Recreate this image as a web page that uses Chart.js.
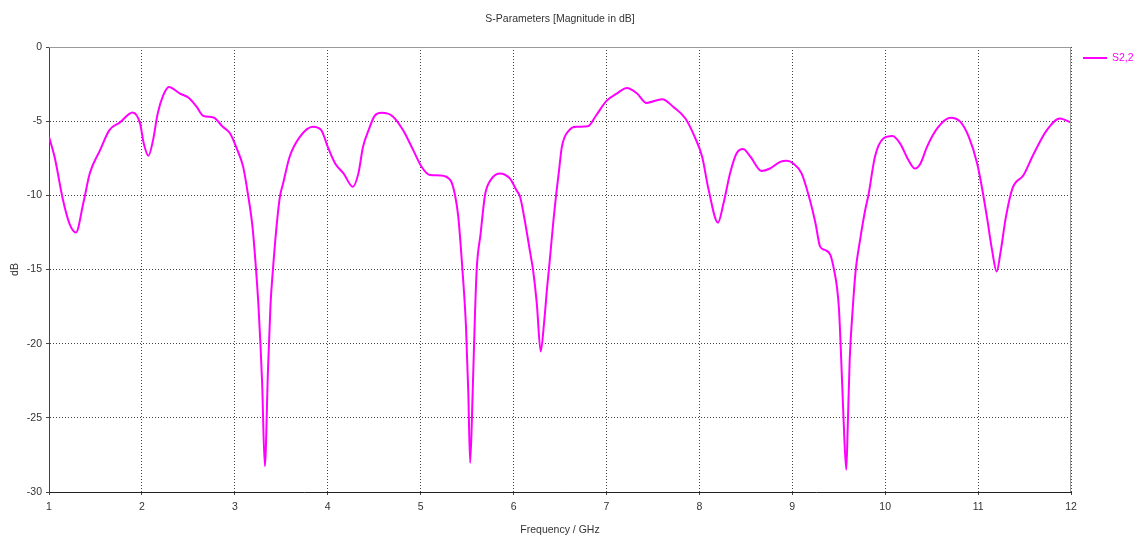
<!DOCTYPE html>
<html>
<head>
<meta charset="utf-8">
<script src="https://cdn.jsdelivr.net/npm/chart.js@4/dist/chart.umd.min.js"></script>
<style>
  html, body { margin: 0; padding: 0; background: #fff; }
  #wrap { width: 1137px; height: 536px; }
</style>
</head>
<body>
<div id="wrap"><canvas id="sChart" width="1137" height="536"></canvas></div>
<script>
// --- Data ---
const freqGHz = [
    1.00, 1.06, 1.15, 1.22, 1.29, 1.37, 1.44, 1.55, 1.65, 1.76, 1.90, 1.98,
    2.02, 2.07, 2.12, 2.17, 2.23, 2.29, 2.41, 2.50, 2.59, 2.66, 2.77, 2.87, 2.95,
    3.02, 3.09, 3.14, 3.19, 3.226, 3.255, 3.294, 3.323, 3.357, 3.384, 3.41, 3.449, 3.485, 3.52, 3.59, 3.70, 3.84, 3.93,
    4.00, 4.08, 4.17, 4.27, 4.33, 4.38, 4.44, 4.51, 4.58, 4.70, 4.81, 4.92,
    5.01, 5.10, 5.21, 5.32, 5.37, 5.405, 5.45, 5.488, 5.513, 5.533, 5.56, 5.585, 5.603, 5.646, 5.693, 5.75, 5.85, 5.96,
    6.03, 6.07, 6.12, 6.18, 6.21, 6.25, 6.292, 6.33, 6.36, 6.385, 6.43, 6.46, 6.49, 6.52, 6.60, 6.68, 6.80, 6.89,
    7.00, 7.11, 7.22, 7.33, 7.43, 7.60, 7.72, 7.85, 7.95,
    8.03, 8.10, 8.20, 8.26, 8.33, 8.40, 8.47, 8.55, 8.67, 8.76, 8.87, 8.94,
    9.01, 9.10, 9.19, 9.25, 9.30, 9.35, 9.41, 9.45, 9.48, 9.503, 9.527, 9.552, 9.581, 9.597, 9.618, 9.65, 9.683, 9.73, 9.785, 9.82, 9.89, 9.98,
    10.08, 10.16, 10.25, 10.32, 10.38, 10.45, 10.56, 10.70, 10.81, 10.90, 10.99,
    11.04, 11.10, 11.15, 11.20, 11.24, 11.30, 11.37, 11.49, 11.60, 11.74, 11.88, 12.00
];
const s22dB = [
    -6.06, -7.4, -10.3, -11.9, -12.5, -10.5, -8.5, -6.95, -5.6, -5.1, -4.42, -5.15,
    -6.5, -7.33, -6.28, -4.48, -3.25, -2.69, -3.14, -3.41, -4.04, -4.64, -4.75, -5.38, -5.83,
    -6.84, -8.08, -9.87, -12.11, -14.8, -17.5, -22.65, -28.26, -21.76, -17.4, -15.03, -12.11, -10.1, -9.19, -7.4, -6.06, -5.38, -5.6,
    -6.73, -7.85, -8.52, -9.42, -8.52, -6.73, -5.6, -4.6, -4.44, -4.68, -5.6, -6.95,
    -8.07, -8.63, -8.66, -8.97, -9.98, -11.44, -15.03, -18.84, -23.3, -28.04, -23.3, -18.0, -15.03, -12.56, -9.98, -9.0, -8.52, -8.86,
    -9.64, -10.1, -11.66, -13.9, -15.03, -17.27, -20.52, -18.5, -16.3, -14.7, -11.66, -9.87, -8.3, -6.73, -5.6, -5.38, -5.34, -4.6,
    -3.63, -3.14, -2.76, -3.14, -3.77, -3.52, -4.04, -4.82, -6.06,
    -7.4, -9.64, -11.84, -10.54, -8.52, -7.18, -6.88, -7.4, -8.36, -8.19, -7.74, -7.67,
    -7.85, -8.52, -10.32, -11.88, -13.46, -13.68, -14.02, -15.03, -16.15, -17.7, -21.1, -25.1, -28.5, -25.6, -21.1, -17.7, -15.03, -13.0, -10.99, -9.98, -7.4, -6.17,
    -6.0, -6.5, -7.62, -8.19, -7.85, -6.73, -5.49, -4.77, -5.05, -6.06, -7.85,
    -9.42, -11.66, -13.68, -15.14, -13.9, -11.44, -9.53, -8.63, -7.18, -5.6, -4.82, -5.1
];
const xTicks = [1, 2, 3, 4, 5, 6, 7, 8, 9, 10, 11, 12];
const yTicks = [0, -5, -10, -15, -20, -25, -30];

const seriesLabel = 'S2,2';
const chartTitle = 'S-Parameters [Magnitude in dB]';
const xTitle = 'Frequency / GHz';
const yTitle = 'dB';

const lineColor = '#ff00ff';
const fontFamily = "'Liberation Sans', Arial, sans-serif";
const textColor = '#333';

// --- Titles, legend and frame ---
const decorPlugin = {
    id: 'decor',
    afterDraw(chart) {
        const { ctx, chartArea } = chart;
        const cx = (chartArea.left + chartArea.right) / 2;
        const cy = (chartArea.top + chartArea.bottom) / 2;
        ctx.save();

        // gray frame on top / right
        ctx.strokeStyle = '#9a9a9a';
        ctx.lineWidth = 1;
        ctx.beginPath();
        ctx.moveTo(chartArea.left, Math.round(chartArea.top) + 0.5);
        ctx.lineTo(chartArea.right, Math.round(chartArea.top) + 0.5);
        ctx.moveTo(Math.round(chartArea.right) - 0.5, chartArea.top);
        ctx.lineTo(Math.round(chartArea.right) - 0.5, chartArea.bottom);
        ctx.stroke();

        ctx.font = '10.5px ' + fontFamily;
        ctx.fillStyle = textColor;
        ctx.textAlign = 'center';
        ctx.textBaseline = 'middle';
        ctx.fillText(chartTitle, cx, 19);
        ctx.fillText(xTitle, cx, 530);

        ctx.save();
        ctx.translate(15, cy);
        ctx.rotate(-Math.PI / 2);
        ctx.fillText(yTitle, 0, 0);
        ctx.restore();

        // legend
        ctx.strokeStyle = lineColor;
        ctx.lineWidth = 2;
        ctx.beginPath();
        ctx.moveTo(1083, 58);
        ctx.lineTo(1107, 58);
        ctx.stroke();
        ctx.fillStyle = lineColor;
        ctx.textAlign = 'left';
        ctx.fillText(seriesLabel, 1112, 58);

        ctx.restore();
    }
};

const gridOpts = {
    color: '#444',
    lineWidth: 1,
    drawTicks: true,
    tickLength: 3,
    tickColor: '#444',
    tickBorderDash: []
};

new Chart(document.getElementById('sChart').getContext('2d'), {
    type: 'line',
    data: {
        datasets: [{
            label: seriesLabel,
            data: freqGHz.map((f, i) => ({ x: f, y: s22dB[i] })),
            borderColor: lineColor,
            borderWidth: 2,
            pointRadius: 0,
            fill: false,
            cubicInterpolationMode: 'monotone'
        }]
    },
    options: {
        responsive: false,
        animation: false,
        layout: { padding: { left: 0, top: 47, right: 66, bottom: 0 } },
        plugins: { legend: { display: false }, title: { display: false }, tooltip: { enabled: false } },
        scales: {
            x: {
                type: 'linear',
                min: xTicks[0],
                max: xTicks[xTicks.length - 1],
                afterBuildTicks: (s) => { s.ticks = xTicks.map(v => ({ value: v })); },
                afterFit: (s) => { s.height = 44; },
                ticks: { color: textColor, font: { family: fontFamily, size: 10.5 }, padding: 6, maxRotation: 0 },
                grid: gridOpts,
                border: { display: true, color: '#222', width: 1, dash: [1, 2] }
            },
            y: {
                min: yTicks[yTicks.length - 1],
                max: yTicks[0],
                afterBuildTicks: (s) => { s.ticks = yTicks.slice().reverse().map(v => ({ value: v })); },
                afterFit: (s) => { s.width = 49; },
                ticks: { color: textColor, font: { family: fontFamily, size: 10.5 }, padding: 4 },
                grid: gridOpts,
                border: { display: true, color: '#444', width: 1, dash: [1, 2] }
            }
        }
    },
    plugins: [decorPlugin]
});
</script>
</body>
</html>
